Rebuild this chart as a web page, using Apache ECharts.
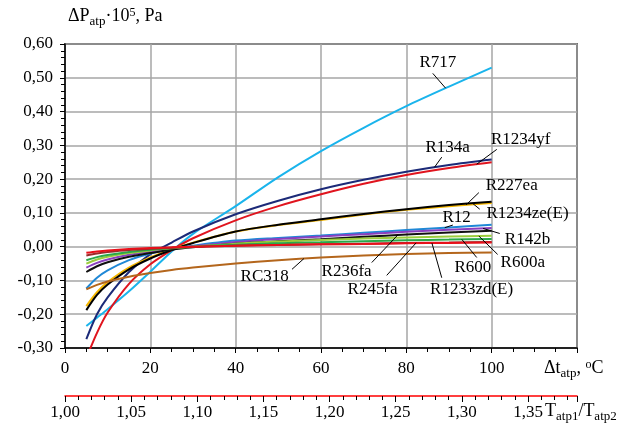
<!DOCTYPE html>
<html>
<head>
<meta charset="utf-8">
<script src="https://cdn.jsdelivr.net/npm/echarts@6/dist/echarts.min.js"></script>
</head>
<body style="margin:0;background:#fff">
<div id="main" style="width:623px;height:426px;"></div>
<script type="text/javascript">
// temperature difference, degC
var dt = [5, 7.5, 10, 15, 20, 25, 30, 40, 50, 60, 70, 80, 90, 100];

// dP * 1e5, Pa
var r717    = [-0.235, -0.21, -0.185, -0.132, -0.074, -0.014, 0.038, 0.12, 0.206, 0.283, 0.352, 0.416, 0.474, 0.53];
var r134a   = [-0.274, -0.2, -0.15, -0.075, -0.022, 0.012, 0.045, 0.096, 0.136, 0.17, 0.198, 0.222, 0.242, 0.258];
var r1234yf = [-0.33, -0.255, -0.195, -0.11, -0.052, -0.01, 0.025, 0.078, 0.12, 0.155, 0.186, 0.212, 0.233, 0.25];
var r227ea  = [-0.176, -0.135, -0.105, -0.062, -0.032, -0.008, 0.012, 0.045, 0.064, 0.079, 0.095, 0.109, 0.12, 0.129];
var r1234ze = [-0.188, -0.143, -0.112, -0.067, -0.035, -0.01, 0.011, 0.045, 0.065, 0.081, 0.097, 0.111, 0.123, 0.133];
var r12     = [-0.124, -0.092, -0.07, -0.04, -0.02, -0.007, 0.003, 0.018, 0.026, 0.033, 0.041, 0.049, 0.057, 0.065];
var r142b   = [-0.062, -0.048, -0.038, -0.024, -0.014, -0.006, 0.001, 0.014, 0.023, 0.03, 0.037, 0.044, 0.05, 0.055];
var r236fa  = [-0.075, -0.058, -0.046, -0.03, -0.019, -0.009, -0.002, 0.009, 0.016, 0.022, 0.029, 0.036, 0.042, 0.047];
var r600a   = [-0.05, -0.038, -0.03, -0.019, -0.011, -0.005, 0.0, 0.009, 0.015, 0.02, 0.024, 0.027, 0.03, 0.032];
var r600    = [-0.04, -0.031, -0.025, -0.016, -0.009, -0.004, 0.0, 0.006, 0.01, 0.013, 0.016, 0.019, 0.021, 0.023];
var r245fa  = [-0.026, -0.02, -0.016, -0.01, -0.006, -0.003, -0.001, 0.003, 0.005, 0.007, 0.009, 0.011, 0.012, 0.014];
var r1233zd = [-0.018, -0.014, -0.011, -0.007, -0.004, -0.002, 0.0, 0.003, 0.005, 0.007, 0.008, 0.01, 0.011, 0.012];
var rc318   = [-0.126, -0.113, -0.103, -0.089, -0.078, -0.069, -0.062, -0.05, -0.04, -0.032, -0.026, -0.022, -0.019, -0.017];

var names  = ['R717', 'R134a', 'R1234yf', 'R227ea', 'R1234ze(E)', 'R12', 'R142b', 'R236fa', 'R600a', 'R600', 'R245fa', 'R1233zd(E)', 'RC318'];
var values = [r717, r134a, r1234yf, r227ea, r1234ze, r12, r142b, r236fa, r600a, r600, r245fa, r1233zd, rc318];
var colors = ['#1ab4ec', '#1c2a78', '#e0141e', '#f5b700', '#000000', '#1f88d6', '#8a3fbf', '#111111', '#9ccc3c', '#2aa84a', '#9b2a2a', '#e8101a', '#b4661c'];

// label text centre [dt, dP], leader start [dt, dP], dt where leader meets the curve
var notes = [
    ['R717',       [87.4, 0.545],  [86.2, 0.513],  89.2],
    ['R134a',      [89.7, 0.294],  [88.3, 0.265],  86.6],
    ['R1234yf',    [106.8, 0.318], [101.2, 0.288], 96.5],
    ['R227ea',     [104.7, 0.181], [97.0, 0.160],  94],
    ['R1234ze(E)', [108.4, 0.099], [97.2, 0.111],  95.5],
    ['R12',        [91.8, 0.087],  [90.9, 0.064],  89],
    ['R142b',      [108.4, 0.022], [101.9, 0.039], 98],
    ['R600a',      [107.3, -0.047],[101.4, -0.023],97],
    ['R600',       [95.6, -0.061], [96.5, -0.032], 93],
    ['R1233zd(E)', [95.3, -0.127], [88.3, -0.092], 86],
    ['R245fa',     [72.1, -0.127], [75.4, -0.085], 82.3],
    ['R236fa',     [66.0, -0.074], [71.9, -0.047], 78],
    ['RC318',      [46.8, -0.088], [53.2, -0.067], 56]
];

var ratioMin = 1.0, ratioMax = 1.387;

var serif = '"Liberation Serif", "Times New Roman", serif';
var comma = function (v, d) { return v.toFixed(d).replace('.', ','); };

var myChart = echarts.init(document.getElementById('main'));

var series = [];
for (var i = 0; i < names.length; i++) {
    var pts = [];
    for (var j = 0; j < dt.length; j++) pts.push([dt[j], values[i][j]]);
    series.push({
        name: names[i],
        type: 'line',
        data: pts,
        smooth: 0.3,
        showSymbol: false,
        silent: true,
        lineStyle: { color: colors[i], width: 2 },
        z: 3 + i
    });
}

var gridLine = { show: true, lineStyle: { color: '#a6a6a6', width: 1.5 } };

// rich text pieces for the axis titles (subscripts / superscripts)
var rich = {
    a: { fontSize: 18, fontFamily: serif, fontWeight: 'normal', color: '#000', padding: [0, 0, 3, 0] },
    b: { fontSize: 13, fontFamily: serif, fontWeight: 'normal', color: '#000', verticalAlign: 'bottom' },
    c: { fontSize: 12, fontFamily: serif, fontWeight: 'normal', color: '#000', verticalAlign: 'top' }
};

option = {
    backgroundColor: '#fff',
    animation: false,
    title: [
        { left: 68, top: 7, padding: 0, text: '{a|ΔP}{b|atp}{a|·10}{c|5}{a|, Pa}', textStyle: { fontWeight: 'normal', rich: rich } },
        { left: 544, top: 359, padding: 0, text: '{a|Δt}{b|atp}{a|, }{c|o}{a|C}', textStyle: { fontWeight: 'normal', rich: rich } },
        { left: 545, top: 402, padding: 0, text: '{a|T}{b|atp1}{a|/T}{b|atp2}', textStyle: { fontWeight: 'normal', rich: rich } }
    ],
    grid: { left: 65, top: 44, width: 512, height: 304, show: true, borderColor: '#000', borderWidth: 1.5, backgroundColor: 'transparent' },
    xAxis: [{
        type: 'value', min: 0, max: 120, interval: 20,
        axisLine: { show: true, onZero: false, lineStyle: { color: '#000', width: 1.5 } },
        axisTick: { show: true, length: 5, lineStyle: { color: '#000' } },
        minorTick: { show: true, splitNumber: 4, length: 4, lineStyle: { color: '#000' } },
        splitLine: gridLine,
        axisLabel: {
            margin: 12, color: '#000', fontFamily: serif, fontSize: 17,
            formatter: function (v) { return v >= 120 ? '' : String(v); }
        }
    }, {
        // temperature ratio scale under the main axis
        type: 'value', position: 'bottom', offset: 48, min: ratioMin, max: ratioMax, interval: 0.05,
        axisLine: { show: true, onZero: false, lineStyle: { color: '#f00', width: 1.5 } },
        axisTick: { show: true, length: 6, lineStyle: { color: '#000' } },
        minorTick: { show: true, splitNumber: 5, length: 4, lineStyle: { color: '#000' } },
        splitLine: { show: false },
        axisLabel: {
            margin: 8, color: '#000', fontFamily: serif, fontSize: 17,
            formatter: function (v) { return v > 1.36 ? '' : comma(v, 2); }
        }
    }],
    yAxis: {
        type: 'value', min: -0.3, max: 0.6, interval: 0.1,
        axisLine: { show: true, onZero: false, lineStyle: { color: '#000', width: 1.5 } },
        axisTick: { show: true, length: 5, lineStyle: { color: '#000' } },
        minorTick: { show: true, splitNumber: 5, length: 4, lineStyle: { color: '#000' } },
        splitLine: gridLine,
        axisLabel: {
            margin: 12, color: '#000', fontFamily: serif, fontSize: 17,
            formatter: function (v) { return comma(v, 2); }
        }
    },
    series: series
};

myChart.setOption(option);

function valueAt(arr, t) {
    for (var k = 1; k < dt.length; k++) {
        if (t <= dt[k]) {
            var f = (t - dt[k - 1]) / (dt[k] - dt[k - 1]);
            return arr[k - 1] + f * (arr[k] - arr[k - 1]);
        }
    }
    return arr[arr.length - 1];
}

// curve names with their leader lines
var graphics = [];
for (var n = 0; n < notes.length; n++) {
    var idx = names.indexOf(notes[n][0]);
    var tp = myChart.convertToPixel({ gridIndex: 0 }, notes[n][1]);
    var p1 = myChart.convertToPixel({ gridIndex: 0 }, notes[n][2]);
    var p2 = myChart.convertToPixel({ gridIndex: 0 }, [notes[n][3], valueAt(values[idx], notes[n][3])]);
    graphics.push({
        type: 'line', z: 50, silent: true,
        shape: { x1: p1[0], y1: p1[1], x2: p2[0], y2: p2[1] },
        style: { stroke: '#000', lineWidth: 1 }
    });
    graphics.push({
        type: 'text', z: 51, silent: true, x: tp[0], y: tp[1],
        style: { text: notes[n][0], font: '17px ' + serif, fill: '#000', align: 'center', verticalAlign: 'middle' }
    });
}

myChart.setOption({ graphic: graphics });
</script>
</body>
</html>
